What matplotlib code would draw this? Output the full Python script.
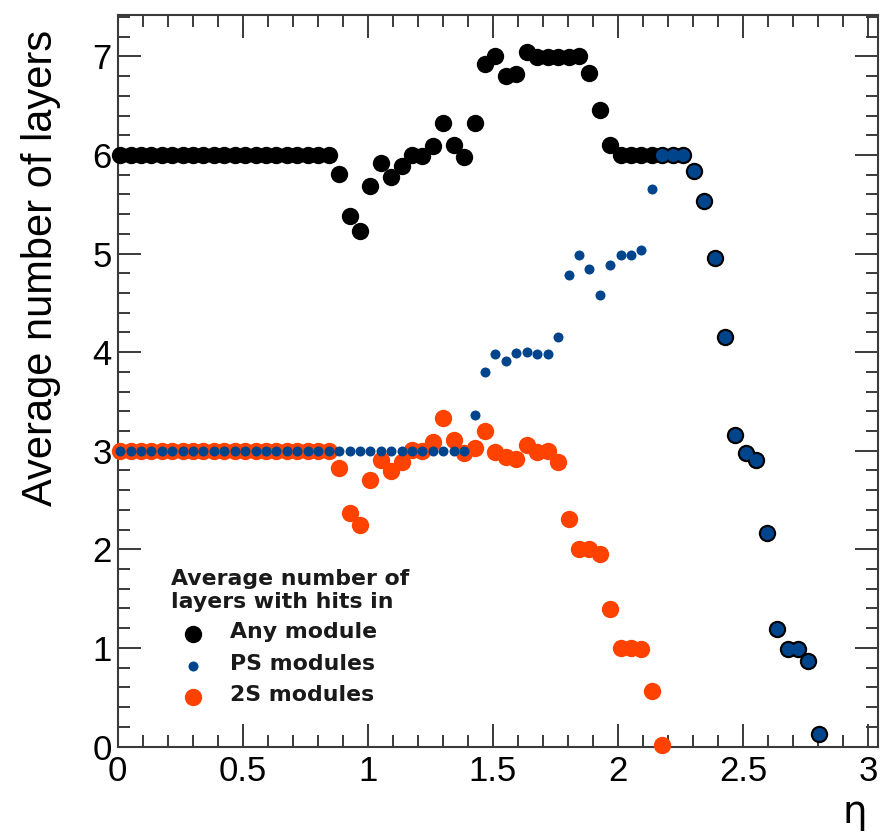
import numpy as np
import matplotlib
matplotlib.use("Agg")
import matplotlib.pyplot as plt
from matplotlib.lines import Line2D
from matplotlib.ticker import MultipleLocator

# ---- data ----
eta = [0.010, 0.052, 0.093, 0.135, 0.177, 0.218, 0.260, 0.302, 0.343, 0.385,
       0.427, 0.468, 0.510, 0.552, 0.593, 0.635, 0.677, 0.718, 0.760, 0.802,
       0.843, 0.885, 0.927, 0.968, 1.010, 1.052, 1.093, 1.135, 1.177, 1.218,
       1.260, 1.302, 1.343, 1.385, 1.427, 1.468, 1.510, 1.552, 1.593, 1.635,
       1.677, 1.718, 1.760, 1.802, 1.843, 1.885, 1.927, 1.968, 2.010, 2.052,
       2.093, 2.135, 2.177, 2.218, 2.260, 2.302, 2.343, 2.385, 2.427, 2.468,
       2.510, 2.552, 2.593, 2.635, 2.677, 2.718, 2.760, 2.802]

any_module = [6.00, 6.00, 6.00, 6.00, 6.00, 6.00, 6.00, 6.00, 6.00, 6.00,
              6.00, 6.00, 6.00, 6.00, 6.00, 6.00, 6.00, 6.00, 6.00, 6.00,
              6.00, 5.81, 5.38, 5.23, 5.69, 5.92, 5.78, 5.89, 6.00, 5.99,
              6.09, 6.32, 6.10, 5.98, 6.32, 6.92, 7.00, 6.80, 6.82, 7.04,
              6.99, 6.99, 6.99, 6.99, 7.00, 6.83, 6.46, 6.10, 6.00, 6.00,
              6.00, 6.00, 6.00, 6.00, 6.00, 5.84, 5.53, 4.96, 4.15, 3.16,
              2.98, 2.91, 2.17, 1.19, 0.99, 0.99, 0.87, 0.13]

ps_modules = [3.00, 3.00, 3.00, 3.00, 3.00, 3.00, 3.00, 3.00, 3.00, 3.00,
              3.00, 3.00, 3.00, 3.00, 3.00, 3.00, 3.00, 3.00, 3.00, 3.00,
              3.00, 3.00, 3.00, 3.00, 3.00, 3.00, 3.00, 3.00, 3.00, 3.00,
              3.00, 3.00, 3.00, 3.00, 3.36, 3.80, 3.98, 3.91, 3.99, 4.00,
              3.98, 3.98, 4.15, 4.78, 4.99, 4.84, 4.58, 4.88, 4.99, 4.99,
              5.04, 5.65, 6.00, 6.00, 6.00, 5.84, 5.53, 4.96, 4.15, 3.16,
              2.98, 2.91, 2.17, 1.19, 0.99, 0.99, 0.87, 0.13]

two_s_modules = [3.00, 3.00, 3.00, 3.00, 3.00, 3.00, 3.00, 3.00, 3.00, 3.00,
                 3.00, 3.00, 3.00, 3.00, 3.00, 3.00, 3.00, 3.00, 3.00, 3.00,
                 3.00, 2.82, 2.37, 2.25, 2.70, 2.91, 2.79, 2.89, 3.01, 3.00,
                 3.09, 3.33, 3.11, 2.98, 3.03, 3.20, 2.99, 2.94, 2.92, 3.06,
                 2.99, 3.00, 2.89, 2.31, 2.00, 2.00, 1.95, 1.39, 1.00, 1.00,
                 0.99, 0.56, 0.02]

legend_title = "Average number of\nlayers with hits in"
series_labels = ["Any module", "PS modules", "2S modules"]
x_ticks = [0, 0.5, 1, 1.5, 2, 2.5, 3]
x_tick_labels = ["0", "0.5", "1", "1.5", "2", "2.5", "3"]
y_ticks = [0, 1, 2, 3, 4, 5, 6, 7]

# ---- style ----
W, H = 881, 834
BLACK = "#000000"
BLUE = "#00458C"
ORANGE = "#FF4200"
FRAME = "#3a3a3a"
BIG = 12.5     # marker size (pt) of large dots
SMALL = 7.2    # marker size (pt) of PS dots
TAIL = 9.4     # PS dots where they coincide with "any module"

fig = plt.figure(figsize=(W / 100, H / 100), dpi=100)
fig.patch.set_facecolor("white")

left_px, right_px, top_px, bottom_px = 117.5, 878.0, 15.0, 746.5
ax = fig.add_axes([left_px / W, 1 - bottom_px / H,
                   (right_px - left_px) / W, (bottom_px - top_px) / H])

eta_a = np.array(eta)
any_a = np.array(any_module)
ps_a = np.array(ps_modules)
s2_a = np.array(two_s_modules)
n2s = len(two_s_modules)

ax.plot(eta_a, any_a, ls="none", marker="o", ms=BIG, mew=0, color=BLACK,
        clip_on=False, zorder=3)
ax.plot(eta_a[:n2s], s2_a, ls="none", marker="o", ms=BIG, mew=0, color=ORANGE,
        clip_on=False, zorder=4)
tail = eta_a > 2.15
ax.plot(eta_a[~tail], ps_a[~tail], ls="none", marker="o", ms=SMALL, mew=0,
        color=BLUE, clip_on=False, zorder=5)
ax.plot(eta_a[tail], ps_a[tail], ls="none", marker="o", ms=TAIL, mew=0,
        color=BLUE, clip_on=False, zorder=5)

ax.set_xlim(0, 3.038)
ax.set_ylim(0, 7.42)

ax.set_xticks(x_ticks)
ax.set_xticklabels(x_tick_labels)
ax.set_yticks(y_ticks)
ax.xaxis.set_minor_locator(MultipleLocator(0.1))
ax.yaxis.set_minor_locator(MultipleLocator(0.2))

for sp in ax.spines.values():
    sp.set_color(FRAME)
    sp.set_linewidth(1.5)

ax.tick_params(which="both", direction="in", top=True, right=True,
               color=FRAME, width=1.4)
ax.tick_params(which="major", length=16.5)
ax.tick_params(which="minor", length=8.5)
ax.tick_params(axis="x", which="major", pad=6)
ax.tick_params(axis="y", which="major", pad=4)
for lab in ax.get_xticklabels() + ax.get_yticklabels():
    lab.set_fontfamily("Liberation Sans")
    lab.set_fontsize(25)

fig.text(41 / W, 1 - 268 / H, "Average number of layers", rotation=90,
         ha="center", va="center", fontsize=30, family="Liberation Sans")
fig.text(855 / W, 1 - 812 / H, "η", ha="center", va="center", fontsize=28,
         family="DejaVu Sans")

# ---- legend (manual, ROOT-like) ----
leg_font = dict(fontsize=15.8, fontweight="bold", family="DejaVu Sans",
                color="#1a1a1a")
t1, t2 = legend_title.split("\n")
fig.text(171 / W, 1 - 579 / H, t1, ha="left", va="center", **leg_font)
fig.text(171 / W, 1 - 602 / H, t2, ha="left", va="center", **leg_font)
rows = [(634, BLACK, BIG), (666, BLUE, SMALL), (697, ORANGE, BIG)]
for (ypx, col, ms), lab in zip(rows, series_labels):
    fig.add_artist(Line2D([193 / W], [1 - ypx / H], ls="none", marker="o",
                          ms=ms, mew=0, color=col, transform=fig.transFigure))
    fig.text(230 / W, 1 - (ypx - 2) / H, lab, ha="left", va="center",
             **leg_font)

fig.savefig("out.png", dpi=100, facecolor="white")
